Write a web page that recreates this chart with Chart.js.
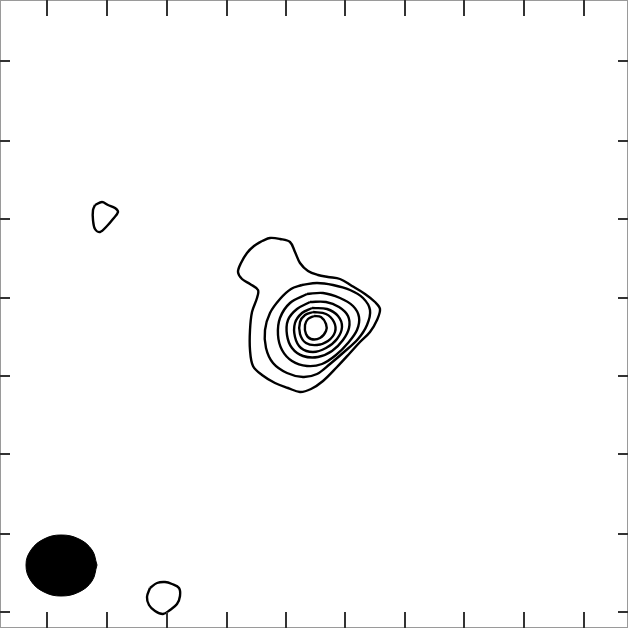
<!DOCTYPE html>
<html>
<head>
<meta charset="utf-8">
<script src="https://cdn.jsdelivr.net/npm/chart.js@4.4.1/dist/chart.umd.min.js"></script>
<style>
html,body{margin:0;padding:0;background:#fff;}
canvas{display:block;}
</style>
</head>
<body>
<canvas id="c" width="628" height="628"></canvas>
<script>
// Map coordinates (map pixels, y counted downward)
const xRange = [0, 628];
const yRange = [0, 628];
const xTicks = [47, 107, 167, 227, 286, 345, 405, 464, 524, 584];
const yTicks = [61, 141, 219, 298, 376, 454, 534, 612];

// Contour levels of the main source (outermost to innermost)
const contour1 = [[262,241],[270,238],[280,239],[290,242],[295,252],[300,263],[308,271],[318,275],[328,277],[340,279],[352,286],[365,294],[375,302],[380,309],[377,320],[370,332],[360,342],[350,353],[337,367],[323,381],[311,389],[300,392],[288,388],[275,383],[262,375],[253,366],[250,350],[250,330],[252,312],[257,298],[258,290],[250,284],[242,279],[238,272],[241,263],[247,253],[254,246],[262,241]];
const contour2 = [[302,285],[317,283],[333,285],[350,290],[363,298],[370,310],[367,325],[358,339],[344,352],[330,364],[317,374],[303,377],[287,373],[273,363],[266,348],[265,330],[270,313],[280,299],[291,289],[302,285]];
const contour3 = [[307,294],[323,293],[340,298],[353,306],[359,317],[357,330],[348,343],[336,355],[322,364],[307,366],[292,361],[282,350],[278,335],[280,318],[290,303],[307,294]];
const contour4 = [[310,302],[326,302],[339,307],[348,316],[349,328],[343,340],[332,351],[318,357],[303,356],[292,348],[287,335],[288,320],[297,309],[310,302]];
const contour5 = [[312,308],[327,309],[338,316],[342,327],[337,339],[326,348],[313,352],[301,348],[295,337],[295,323],[302,313],[312,308]];
const contour6 = [[313,312],[326,314],[334,322],[335,332],[328,341],[317,345],[306,343],[300,334],[300,322],[305,315],[313,312]];
const contour7 = [[314,316],[321,317],[326,324],[326,331],[320,338],[311,339],[306,334],[305,325],[308,319],[314,316]];

// Small isolated contours
const patchNW = [[95,205],[102,202],[108,205],[115,208],[118,212],[113,219],[107,226],[100,232],[95,229],[93,220],[93,210],[95,205]];
const patchS = [[150,588],[157,583],[165,582],[172,584],[179,588],[180,596],[177,604],[170,610],[163,614],[155,611],[149,605],[147,597],[150,588]];

// Beam outline (lower-left)
const beam = [[97,565],[92,550],[79,539],[61,535],[44,539],[31,550],[26,565],[31,581],[44,592],[61,596],[79,592],[92,581],[97,565]];

const toPts = a => a.map(p => ({x: p[0], y: p[1]}));
const contourSets = [contour1, contour2, contour3, contour4, contour5, contour6, contour7, patchNW, patchS];

const datasets = contourSets.map(c => ({
  data: toPts(c),
  borderColor: '#000',
  borderWidth: 2.4,
  pointRadius: 0,
  tension: 0.35,
  fill: false
}));
datasets.push({
  data: toPts(beam),
  borderColor: '#000',
  backgroundColor: '#000',
  borderWidth: 1,
  pointRadius: 0,
  tension: 0.4,
  fill: 'shape'
});

const frameTicks = {
  id: 'frameTicks',
  afterDraw(chart) {
    const {ctx, chartArea: a, scales} = chart;
    ctx.save();
    ctx.strokeStyle = '#9a9a9a';
    ctx.lineWidth = 1;
    ctx.strokeRect(a.left + 0.5, a.top + 0.5, a.right - a.left - 1, a.bottom - a.top - 1);
    ctx.strokeStyle = '#333';
    ctx.lineWidth = 2;
    ctx.beginPath();
    xTicks.forEach(v => {
      const px = Math.round(scales.x.getPixelForValue(v));
      ctx.moveTo(px, a.top); ctx.lineTo(px, a.top + 16);
      ctx.moveTo(px, a.bottom); ctx.lineTo(px, a.bottom - 16);
    });
    yTicks.forEach(v => {
      const py = Math.round(scales.y.getPixelForValue(v));
      ctx.moveTo(a.left, py); ctx.lineTo(a.left + 10, py);
      ctx.moveTo(a.right, py); ctx.lineTo(a.right - 10, py);
    });
    ctx.stroke();
    ctx.restore();
  }
};

new Chart(document.getElementById('c'), {
  type: 'line',
  data: { datasets },
  options: {
    responsive: false,
    animation: false,
    devicePixelRatio: 1,
    layout: { padding: 0 },
    plugins: { legend: { display: false }, tooltip: { enabled: false } },
    scales: {
      x: { type: 'linear', display: false, min: xRange[0], max: xRange[1] },
      y: { type: 'linear', display: false, reverse: true, min: yRange[0], max: yRange[1] }
    }
  },
  plugins: [frameTicks]
});
</script>
</body>
</html>
